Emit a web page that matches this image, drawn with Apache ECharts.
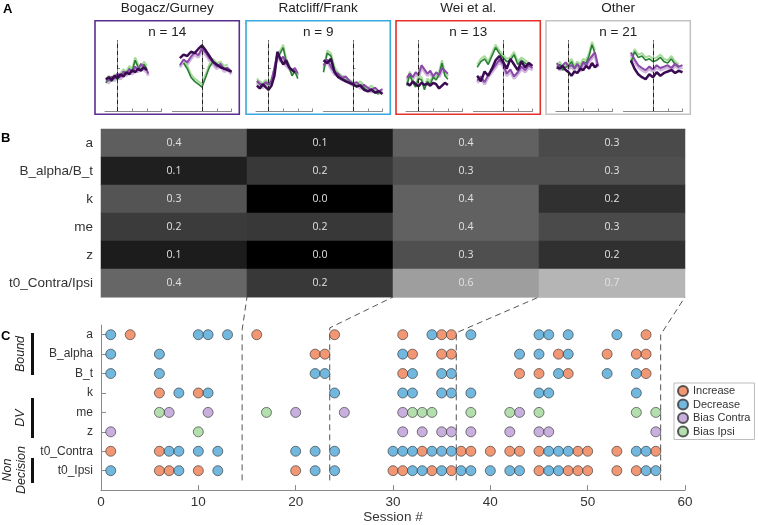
<!DOCTYPE html>
<html><head><meta charset="utf-8">
<script src="https://cdn.jsdelivr.net/npm/echarts@6/dist/echarts.min.js"></script>
<style>html,body{margin:0;padding:0;background:#fff}#c{width:758px;height:525px}</style>
</head><body><div id="c"></div>
<script>
// ---------------- DATA ----------------
const groups = ['Bogacz/Gurney', 'Ratcliff/Frank', 'Wei et al.', 'Other'];
const groupN = [14, 9, 13, 21];

const heatParams = ['a', 'B_alpha/B_t', 'k', 'me', 'z', 't0_Contra/Ipsi'];
const fracBogacz   = [0.37, 0.12, 0.33, 0.23, 0.11, 0.40];
const fracRatcliff = [0.11, 0.22, 0.00, 0.22, 0.00, 0.22];
const fracWei      = [0.38, 0.31, 0.38, 0.38, 0.31, 0.62];
const fracOther    = [0.29, 0.31, 0.19, 0.29, 0.19, 0.71];

const rowNames = ['a', 'B_alpha', 'B_t', 'k', 'me', 'z', 't0_Contra', 't0_Ipsi'];
const increaseSessions = [
  [3, 16, 24, 31, 35, 36, 56],
  [22, 23, 32, 35, 36, 47, 52, 55, 56],
  [31, 43, 45, 48, 56],
  [6, 10],
  [],
  [],
  [1, 6, 33, 37, 38, 40, 42, 43, 45, 49, 50, 53, 57],
  [6, 7, 10, 20, 30, 31, 34, 36, 45, 48, 49, 50, 53, 55]
];
const decreaseSessions = [
  [1, 10, 11, 13, 34, 38, 45, 46, 48, 53],
  [1, 6, 31, 43, 45, 48],
  [1, 6, 22, 23, 32, 35, 36, 47, 52, 55],
  [8, 11, 24, 31, 32, 35, 36, 38, 45, 46, 55],
  [],
  [],
  [7, 8, 10, 12, 20, 22, 24, 30, 31, 32, 34, 35, 36, 46, 47, 48, 55, 56],
  [1, 8, 12, 22, 24, 32, 33, 35, 37, 38, 40, 42, 43, 46, 47, 56, 57]
];
const biasContraSessions = [
  [], [], [], [],
  [7, 11, 20, 25, 31, 43],
  [1, 31, 33, 35, 36, 38, 42, 45, 46, 57],
  [], []
];
const biasIpsiSessions = [
  [], [], [], [],
  [6, 17, 32, 33, 34, 38, 42, 45, 55, 57],
  [10],
  [], []
];
const groupEndSessions = [14.5, 23.5, 36.5, 57.5];

// mini traces (panel A): time bases and normalized activity
const stimTimes = [-0.4, -0.3, -0.2, -0.1, 0, 0.1, 0.2, 0.3, 0.4, 0.5, 0.6, 0.7, 0.8, 0.9, 1.0, 1.05];
const respTimes = [-1, -0.875, -0.75, -0.625, -0.5, -0.375, -0.25, -0.125, 0, 0.125, 0.25, 0.375, 0.5, 0.625, 0.75, 0.875, 1];
const stimTicks = [0, 0.5, 1, 1.5];
const respTicks = [0, 0.5, 1];
const activityTicks = [0.6];

const bogaczStimDark  = [0.45,0.48,0.44,0.50,0.47,0.52,0.49,0.55,0.52,0.58,0.55,0.60,0.57,0.62,0.58,null];
const bogaczStimLight = [0.42,0.40,0.46,0.43,0.50,0.45,0.53,0.50,0.56,0.52,0.60,0.55,0.64,0.58,0.55,0.50];
const bogaczStimGreen = [0.40,0.46,0.42,0.48,0.45,0.50,0.55,0.52,0.60,0.56,0.72,0.62,0.58,0.66,0.60,null];
const bogaczRespDark  = [null,null,0.75,0.80,0.78,0.84,0.82,0.88,0.93,0.86,0.78,0.70,0.66,0.62,0.60,0.58,0.56];
const bogaczRespLight = [null,null,0.62,0.70,0.66,0.74,0.80,0.76,0.86,0.80,0.72,0.66,0.60,0.64,0.56,0.58,0.52];
const bogaczRespGreen = [null,null,null,0.68,0.60,0.48,0.42,0.38,0.34,0.48,0.62,0.70,0.64,0.66,0.60,0.62,null];

const ratcliffStimDark  = [0.36,0.32,0.38,0.34,0.30,0.36,0.50,0.84,0.74,0.66,0.72,0.62,0.58,0.55,null,null];
const ratcliffStimLight = [0.40,0.36,0.33,0.38,0.35,0.40,0.58,0.78,0.70,0.74,0.64,0.60,0.55,0.58,0.50,null];
const ratcliffStimGreen = [0.42,0.38,0.35,0.40,0.37,0.42,0.55,0.76,0.82,0.90,0.70,0.62,0.50,0.56,0.46,null];
const ratcliffRespDark  = [0.72,0.68,0.74,0.55,0.48,0.45,0.42,0.40,0.38,0.35,0.36,0.30,0.28,0.30,0.26,0.28,0.24];
const ratcliffRespLight = [0.62,0.70,0.60,0.52,0.50,0.44,0.46,0.40,0.36,0.38,0.32,0.34,0.30,0.27,0.30,0.25,0.28];
const ratcliffRespGreen = [0.55,0.82,0.78,0.58,0.50,0.46,0.44,0.40,0.37,0.34,0.38,0.33,0.28,0.32,0.26,0.24,null];

const weiStimDark  = [0.40,0.36,0.42,0.38,0.35,0.40,0.37,0.39,0.36,0.40,0.38,0.32,0.36,0.40,0.37,null];
const weiStimLight = [0.44,0.50,0.45,0.52,0.48,0.62,0.56,0.50,0.54,0.46,0.52,0.48,0.58,0.54,0.50,null];
const weiStimGreen = [0.36,0.52,0.40,0.34,0.46,0.44,0.30,0.42,0.38,0.48,0.44,0.52,0.68,0.50,0.45,null];
const weiRespDark  = [null,0.50,0.42,0.56,0.50,0.60,0.72,0.78,0.70,0.60,0.74,0.66,0.58,0.70,0.62,0.68,0.64];
const weiRespLight = [null,0.40,0.46,0.38,0.48,0.55,0.62,0.70,0.64,0.50,0.56,0.46,0.52,0.60,0.55,0.62,0.58];
const weiRespGreen = [null,0.62,0.70,0.74,0.66,0.78,0.90,0.82,0.76,0.70,0.72,0.80,0.66,0.72,0.68,0.64,null];

const otherStimDark  = [0.62,0.60,0.64,0.58,0.55,0.50,0.56,0.54,0.60,0.58,0.64,0.60,0.68,0.62,0.66,null];
const otherStimLight = [0.65,0.58,0.62,0.66,0.60,0.62,0.58,0.64,0.56,0.66,0.62,0.70,0.75,0.80,0.62,null];
const otherStimGreen = [0.60,0.66,0.58,0.62,0.64,0.70,0.60,0.66,0.62,0.70,0.68,0.78,0.94,0.82,null,null];
const otherRespDark  = [null,null,0.72,0.60,0.52,0.48,0.45,0.52,0.48,0.55,0.50,0.54,0.56,0.58,0.54,0.57,0.55];
const otherRespLight = [null,null,0.80,0.70,0.62,0.58,0.55,0.60,0.56,0.62,0.58,0.60,0.62,0.58,0.64,0.60,0.62];
const otherRespGreen = [null,null,0.68,0.84,0.76,0.78,0.72,0.74,0.70,0.72,0.76,0.70,0.68,0.74,0.66,0.62,null];

// ---------------- STYLE / LAYOUT ----------------
const FONT = '"Liberation Sans", Arial, sans-serif';
const boxColors = ['#5b2d92', '#38a8e0', '#e8302a', '#c4c4c4'];
const boxOffsets = [0, 151, 301, 451];
const dotColors = { inc: '#ef7d50', dec: '#4ea5d6', bc: '#bb9bd5', bi: '#a0d69a' };
const topRowForConnector = [0.75, 0.65, 0.9, 1.0];

const miniSets = [
  [bogaczStimDark, bogaczStimLight, bogaczStimGreen, bogaczRespDark, bogaczRespLight, bogaczRespGreen],
  [ratcliffStimDark, ratcliffStimLight, ratcliffStimGreen, ratcliffRespDark, ratcliffRespLight, ratcliffRespGreen],
  [weiStimDark, weiStimLight, weiStimGreen, weiRespDark, weiRespLight, weiRespGreen],
  [otherStimDark, otherStimLight, otherStimGreen, otherRespDark, otherRespLight, otherRespGreen]
];

const grids = [], xAxes = [], yAxes = [], series = [];
const axisGray = '#8a8a8a';
function pair(times, vals) { return times.map((t, i) => [t, vals[i] == null ? '-' : vals[i]]); }

for (let g = 0; g < 4; g++) {
  for (let side = 0; side < 2; side++) {
    const idx = g * 2 + side;
    const left = (side === 0 ? 105 : 172.5) + boxOffsets[g];
    grids.push({ left: left, top: 40.5, width: side === 0 ? 56.5 : 59, height: 70.5 });
    xAxes.push({
      type: 'value', gridIndex: idx, min: side === 0 ? -0.43 : -1, max: side === 0 ? 1.5 : 1,
      axisLine: { show: true, lineStyle: { color: axisGray, width: 1 } },
      axisTick: { show: true, inside: true, length: 2.5, lineStyle: { color: axisGray }, customValues: side === 0 ? stimTicks : respTicks },
      axisLabel: { show: false, customValues: side === 0 ? stimTicks : respTicks }, splitLine: { show: false }
    });
    yAxes.push({
      type: 'value', gridIndex: idx, min: 0, max: 1,
      axisLine: { show: true, lineStyle: { color: axisGray, width: 1 } },
      axisTick: { show: true, inside: true, length: 2.5, lineStyle: { color: axisGray }, customValues: activityTicks },
      axisLabel: { show: false, customValues: activityTicks }, splitLine: { show: false }
    });
    const times = side === 0 ? stimTimes : respTimes;
    const set = miniSets[g];
    const dark = set[side * 3], light = set[side * 3 + 1], green = set[side * 3 + 2];
    const common = { type: 'line', xAxisIndex: idx, yAxisIndex: idx, showSymbol: false, silent: true, animation: false };
    series.push(Object.assign({}, common, { data: pair(times, light), lineStyle: { color: '#cdb0dc', width: 3, opacity: 0.9 },
      markLine: { silent: true, symbol: 'none', label: { show: false }, lineStyle: { color: '#222', type: [4, 3], width: 1 }, data: [{ xAxis: 0 }] } }));
    series.push(Object.assign({}, common, { data: pair(times, green.map(v => v == null ? null : v + 0.04)), lineStyle: { color: '#a7db9c', width: 2 } }));
    series.push(Object.assign({}, common, { data: pair(times, green), lineStyle: { color: '#2a7f34', width: 1.6 } }));
    series.push(Object.assign({}, common, { data: pair(times, light.map(v => v == null ? null : v + 0.03)), lineStyle: { color: '#8a4aa8', width: 2 } }));
    series.push(Object.assign({}, common, { data: pair(times, dark), lineStyle: { color: '#3a0b52', width: 2.5 } }));
  }
}

// heatmap grid (index 8)
grids.push({ left: 101, right: 73, top: 129, height: 168 });
xAxes.push({ type: 'category', gridIndex: 8, data: groups, position: 'bottom',
  axisLine: { show: true, lineStyle: { color: '#c8c8c8' } }, axisTick: { show: false }, axisLabel: { show: false } });
xAxes.push({ type: 'category', gridIndex: 8, data: groups, position: 'top',
  axisLine: { show: true, lineStyle: { color: '#c8c8c8' } }, axisTick: { show: false }, axisLabel: { show: false } });
yAxes.push({ type: 'category', gridIndex: 8, data: heatParams, inverse: true,
  axisLine: { show: false }, axisTick: { show: false },
  axisLabel: { fontSize: 13.5, color: '#333', margin: 8, fontFamily: FONT } });
const fracs = [fracBogacz, fracRatcliff, fracWei, fracOther];
const heatData = [];
fracs.forEach((arr, gi) => arr.forEach((v, ri) => heatData.push([gi, ri, v])));
series.push({
  type: 'heatmap', xAxisIndex: 8, yAxisIndex: 8, data: heatData, silent: true,
  label: { show: true, formatter: p => p.value[2].toFixed(1), color: '#e2e2e2', fontSize: 10.5, fontFamily: '"Open Sans", sans-serif' },
  itemStyle: { borderWidth: 0 }
});
const heatSeriesIndex = series.length - 1;

// dot grid (index 9)
grids.push({ left: 101, right: 73, top: 325, bottom: 32 });
xAxes.push({ type: 'value', gridIndex: 9, min: 0, max: 60, interval: 10, name: 'Session #',
  nameLocation: 'middle', nameGap: 19, nameTextStyle: { fontSize: 13.5, color: '#333', fontFamily: FONT },
  axisLine: { show: true, lineStyle: { color: axisGray } },
  axisTick: { show: true, inside: true, length: 5, lineStyle: { color: axisGray } },
  axisLabel: { fontSize: 13.5, color: '#333', margin: 5, fontFamily: FONT }, splitLine: { show: false } });
yAxes.push({ type: 'value', gridIndex: 9, min: 0.5, max: 9, interval: 0.5, inverse: true,
  axisLine: { show: true, lineStyle: { color: axisGray } },
  axisTick: { show: true, inside: true, length: 5, lineStyle: { color: axisGray }, customValues: [1, 2, 3, 4, 5, 6, 7, 8] },
  axisLabel: { fontSize: 12, color: '#333', margin: 8, fontFamily: FONT, customValues: [1, 2, 3, 4, 5, 6, 7, 8],
    formatter: v => (Number.isInteger(v) && v >= 1 && v <= 8) ? rowNames[v - 1] : '' },
  splitLine: { show: false } });

function dots(rowsArr) {
  const out = [];
  rowsArr.forEach((list, r) => list.forEach(s => out.push([s, r + 1])));
  return out;
}
const dotCommon = { type: 'scatter', xAxisIndex: 10, yAxisIndex: 9, symbolSize: 10, silent: true, z: 5 };
series.push(Object.assign({}, dotCommon, { name: 'Increase', data: dots(increaseSessions), itemStyle: { color: dotColors.inc, borderColor: '#333', borderWidth: 0.8 } }));
series.push(Object.assign({}, dotCommon, { name: 'Decrease', data: dots(decreaseSessions), itemStyle: { color: dotColors.dec, borderColor: '#333', borderWidth: 0.8 } }));
series.push(Object.assign({}, dotCommon, { name: 'Bias Contra', data: dots(biasContraSessions), itemStyle: { color: dotColors.bc, borderColor: '#333', borderWidth: 0.8 } }));
series.push(Object.assign({}, dotCommon, { name: 'Bias Ipsi', data: dots(biasIpsiSessions), itemStyle: { color: dotColors.bi, borderColor: '#333', borderWidth: 0.8 } }));

const chart = echarts.init(document.getElementById('c'), null, { renderer: 'canvas' });
chart.setOption({
  animation: false,
  backgroundColor: '#fff',
  textStyle: { fontFamily: FONT },
  grid: grids, xAxis: xAxes, yAxis: yAxes, series: series,
  visualMap: { show: false, type: 'continuous', min: 0, max: 1, seriesIndex: heatSeriesIndex, dimension: 2,
    inRange: { color: ['#000000', '#ffffff'] } },
  legend: { data: ['Increase', 'Decrease', 'Bias Contra', 'Bias Ipsi'], orient: 'vertical', left: 674, top: 383,
    itemWidth: 10, itemHeight: 10, itemGap: 1.5, padding: [2, 4, 2, 3], icon: 'circle',
    borderColor: '#bdbdbd', borderWidth: 1, backgroundColor: '#fff',
    textStyle: { fontSize: 11, color: '#333', fontFamily: FONT } }
});

// ---------------- GRAPHICS (text, boxes, connectors) ----------------
const gfx = [];
function txt(x, y, text, opts) {
  gfx.push(Object.assign({ type: 'text', x: x, y: y, silent: true,
    style: Object.assign({ text: text, fill: '#222', font: '13.5px ' + FONT, align: 'center', verticalAlign: 'middle' }, opts || {}) }));
}
txt(3, 9, 'A', { font: 'bold 13px ' + FONT, align: 'left', fill: '#000' });
txt(1, 138, 'B', { font: 'bold 13px ' + FONT, align: 'left', fill: '#000' });
txt(1, 336, 'C', { font: 'bold 13px ' + FONT, align: 'left', fill: '#000' });

groups.forEach((name, g) => {
  const off = boxOffsets[g];
  txt(167.2 + off, 8, name);
  txt(167.2 + off, 32, 'n = ' + groupN[g]);
  gfx.push({ type: 'rect', silent: true, shape: { x: 95 + off, y: 20.7, width: 144.3, height: 93.6 },
    style: { fill: 'none', stroke: boxColors[g], lineWidth: 1.6 } });
});

// group bars and labels in panel C
const groupBars = [[333, 375], [398, 438], [458, 483]];
groupBars.forEach(b => gfx.push({ type: 'line', silent: true, shape: { x1: 32.5, y1: b[0], x2: 32.5, y2: b[1] }, style: { stroke: '#111', lineWidth: 3 } }));
function rtxt(x, y, text) {
  gfx.push({ type: 'text', x: x, y: y, rotation: Math.PI / 2, silent: true,
    style: { text: text, fill: '#222', font: 'italic 12.5px ' + FONT, align: 'center', verticalAlign: 'middle' } });
}
rtxt(21, 354, 'Bound');
rtxt(21, 418, 'DV');
rtxt(8, 470, 'Non');
rtxt(22, 470, 'Decision');

// connectors from session groups to heatmap columns
const c0 = chart.convertToPixel({ xAxisIndex: 8 }, 0);
const c1 = chart.convertToPixel({ xAxisIndex: 8 }, 1);
const bw = c1 - c0;
const rLast = chart.convertToPixel({ yAxisIndex: 8 }, heatParams.length - 1);
const r0 = chart.convertToPixel({ yAxisIndex: 8 }, 0);
const bh = heatParams.length > 1 ? (rLast - r0) / (heatParams.length - 1) : 0;
const heatBottom = rLast + bh / 2;
groupEndSessions.forEach((s, k) => {
  const pBot = chart.convertToPixel({ gridIndex: 9 }, [s, 8.5]);
  const pTop = chart.convertToPixel({ gridIndex: 9 }, [s, topRowForConnector[k]]);
  const hx = c0 + bw * k + bw / 2;
  gfx.push({ type: 'polyline', silent: true, z: 1,
    shape: { points: [pBot, pTop, [hx, heatBottom]] },
    style: { fill: 'none', stroke: '#555', lineWidth: 1, lineDash: [6, 4] } });
});

chart.setOption({ graphic: gfx });
</script>
</body></html>
